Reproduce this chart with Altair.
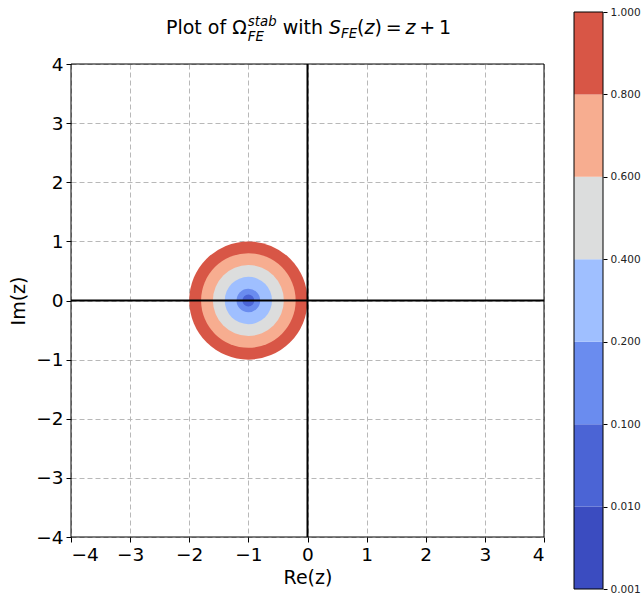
import math
import altair as alt
import pandas as pd

# ---- data ----
levels = [0.001, 0.01, 0.1, 0.2, 0.4, 0.6, 0.8, 1.0]
band_colors = ["#3b4cc0", "#4b64d5", "#6a8cef", "#9fbfff", "#dcdddd", "#f7ad90", "#d85646"]
center_re = [-1.0]
center_im = [0.0]
ticks = [-4, -3, -2, -1, 0, 1, 2, 3, 4]
level_labels = [f"{v:.3f}" for v in levels]

# ---- layout ----
W = 473
H = 473
LEFT, TOP = 71, 64
FONT = "DejaVu Sans"
CB_X0, CB_X1 = W + 30, W + 59
CB_TOP, CB_BOTTOM = 12 - TOP, 589 - TOP
PX_PER_UNIT = W / (ticks[-1] - ticks[0])

n_bands = len(levels) - 1
disc_df = pd.DataFrame({
    "re": center_re * n_bands,
    "im": center_im * n_bands,
    "r": levels[1:],
    "band": list(range(n_bands)),
}).sort_values("r", ascending=False)

color = alt.Color("band:N", scale=alt.Scale(domain=list(range(n_bands)), range=band_colors), legend=None)

xscale = alt.Scale(domain=[ticks[0], ticks[-1]], nice=False, zero=False)
yscale = alt.Scale(domain=[ticks[0], ticks[-1]], nice=False, zero=False)

axis_common = dict(values=ticks, format="d", labelOverlap=False, grid=True, gridDash=[5, 3],
                   gridColor="#b8b8b8", gridWidth=1,
                   tickSize=5, tickColor="black", tickWidth=1, domain=False,
                   labelFontSize=18.5, labelColor="black", labelFont=FONT,
                   titleFontSize=19, titleFontWeight="normal", titleFont=FONT, titleColor="black")

# filled discs: Vega circle symbol of size A has diameter sqrt(A), so A = (2R)^2
discs = alt.Chart(disc_df).mark_circle(opacity=1, strokeWidth=0).encode(
    x=alt.X("re:Q", scale=xscale, axis=alt.Axis(title="Re(z)", titlePadding=5, labelPadding=3, **axis_common)),
    y=alt.Y("im:Q", scale=yscale, axis=alt.Axis(title="Im(z)", titlePadding=7, labelPadding=3, **axis_common)),
    size=alt.Size("r:Q", scale=alt.Scale(type="pow", exponent=2, domain=[0, 1],
                                         range=[0, (2 * PX_PER_UNIT) ** 2], zero=True), legend=None),
    color=color,
)

vline = alt.Chart(pd.DataFrame({"v": [0.0]})).mark_rule(color="black", strokeWidth=2).encode(
    x=alt.X("v:Q", scale=xscale))
hline = alt.Chart(pd.DataFrame({"v": [0.0]})).mark_rule(color="black", strokeWidth=2).encode(
    y=alt.Y("v:Q", scale=yscale))
frame = alt.Chart(pd.DataFrame({"x0": [ticks[0]], "x1": [ticks[-1]], "y0": [ticks[0]], "y1": [ticks[-1]]})).mark_rect(
    fillOpacity=0, stroke="black", strokeWidth=1).encode(
    x=alt.X("x0:Q", scale=xscale), x2="x1:Q", y=alt.Y("y0:Q", scale=yscale), y2="y1:Q")

# ---- title pieces (mathtext imitation) ----
S = 19
s = S * 0.7
BASE = 34 - TOP
pieces = []
x = 166 - LEFT

def piece(text, size, italic, dx, dy, advance=True, width_em=0.0):
    global x
    ch = alt.Chart(pd.DataFrame({"a": [0]})).mark_text(
        text=text, align="left", baseline="alphabetic", font=FONT, fontSize=size,
        fontStyle="italic" if italic else "normal", color="black",
    ).encode(x=alt.value(x + dx), y=alt.value(BASE + dy))
    pieces.append(ch)
    if advance:
        x += dx + width_em * size

piece("Plot of Ω", S, False, 0, 0, width_em=4.255)
piece("FE", s, True, 1, 6.5, advance=False)
piece("stab", s, True, 1, -8, width_em=2.161)
piece("with", S, False, 0.318 * S, 0, width_em=2.122 + 0.318)
piece("S", S, True, 0, 0, width_em=0.635)
piece("FE", s, True, 0, 4, width_em=1.207)
piece("(", S, False, 0, 0, width_em=0.39)
piece("z", S, True, 0, 0, width_em=0.525)
piece(")", S, False, 0, 0, width_em=0.39)
piece("=", S, False, 0.2 * S, 0, width_em=0.838 + 0.2)
piece("z", S, True, 0, 0, width_em=0.525)
piece("+", S, False, 0.2 * S, 0, width_em=0.838 + 0.2)
piece("1", S, False, 0, 0, width_em=0.636)

main = alt.layer(discs, vline, hline, frame)

# ---- colorbar ----
cb_df = pd.DataFrame({"lo": list(range(n_bands)), "hi": list(range(1, n_bands + 1)), "band": list(range(n_bands))})
label_expr = "[" + ",".join(f"'{t}'" for t in level_labels) + "][datum.value]"
cbscale = alt.Scale(domain=[0, n_bands], range=[CB_BOTTOM, CB_TOP], nice=False, zero=False)
cb_bands = alt.Chart(cb_df).mark_rect().encode(
    x=alt.value(CB_X0), x2=alt.value(CB_X1),
    y=alt.Y("lo:Q", scale=cbscale, axis=alt.Axis(
        orient="right", offset=CB_X1 - W, values=list(range(n_bands + 1)), labelExpr=label_expr,
        tickSize=4, tickColor="black", domain=False, grid=False, title=None, labelOverlap=False,
        labelFontSize=10.5, labelFont=FONT, labelColor="#222222", labelPadding=3)),
    y2="hi:Q",
    color=color,
)
cb_outline = alt.Chart(pd.DataFrame({"lo": [0], "hi": [n_bands]})).mark_rect(
    fillOpacity=0, stroke="black", strokeWidth=1).encode(
    x=alt.value(CB_X0), x2=alt.value(CB_X1), y=alt.Y("lo:Q", scale=cbscale), y2="hi:Q")
colorbar = alt.layer(cb_bands, cb_outline)

chart = alt.layer(main, colorbar, *pieces).resolve_scale(y="independent").resolve_axis(y="independent").properties(
    width=W, height=H,
    autosize=alt.AutoSizeParams(type="none"),
    padding={"left": LEFT, "top": TOP, "right": 641 - LEFT - W, "bottom": 596 - TOP - H},
    background="white",
).configure_view(stroke=None)

chart.save("out.html", embed_options={"renderer": "svg", "actions": False})
